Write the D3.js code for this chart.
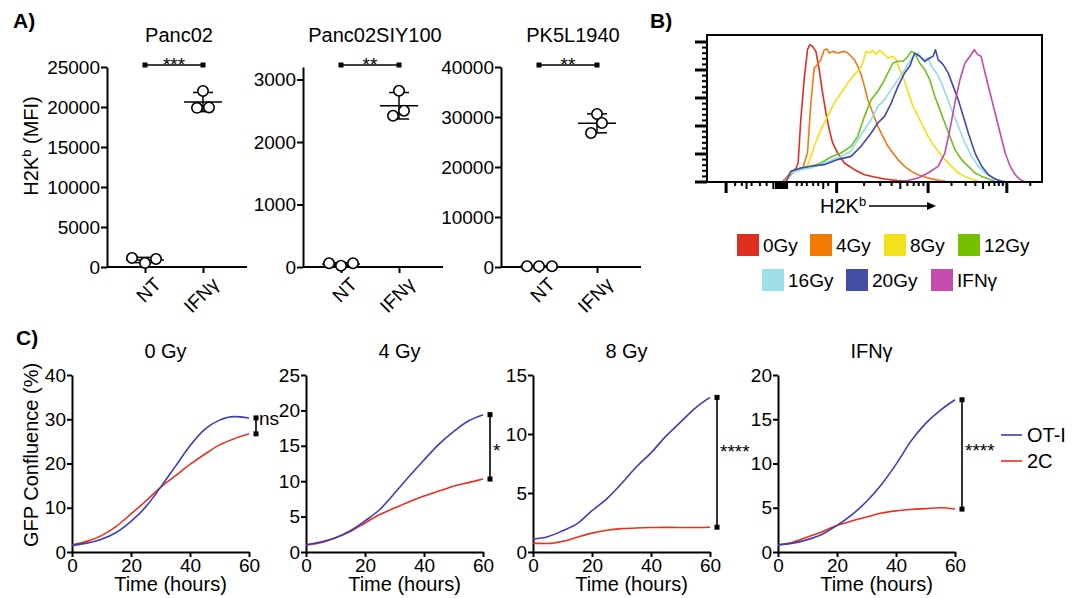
<!DOCTYPE html>
<html>
<head>
<meta charset="utf-8">
<script src="https://cdn.jsdelivr.net/npm/d3@7"></script>
<style>
  body { margin: 0; background: #fff; }
  svg { display: block; font-family: "Liberation Sans", Arial, sans-serif; }
</style>
</head>
<body>
<svg id="fig" width="1079" height="598"></svg>
<script>
// ---- Panel A data (H2Kb MFI, 3 replicates) ----
const catsA = ['NT', 'IFNγ'];
const titlesA = ['Panc02', 'Panc02SIY100', 'PK5L1940'];
const panc02NT = [1125, 500, 1000];
const panc02IFN = [22000, 19900, 19950];
const siyNT = [60, 20, 60];
const siyIFN = [2820, 2420, 2500];
const pk5NT = [150, 150, 150];
const pk5IFN = [30600, 28800, 26800];
const yMaxA = [25000, 3200, 40000];
const yTicksA = [
  [0, 5000, 10000, 15000, 20000, 25000],
  [0, 1000, 2000, 3000],
  [0, 10000, 20000, 30000, 40000]
];
const starsA = ['***', '**', '**'];

// ---- Panel B data (histogram, [channel, % of max]) ----
const doseB = ['0Gy', '4Gy', '8Gy', '12Gy', '16Gy', '20Gy', 'IFNγ'];
const h0Gy = [[225,0],[250,6.4],[265,9.5],[272,13.6],[280,44.5],[290,73.1],[300,94.5],[307,98.1],[315,96.9],[325,93.3],[335,80.2],[345,63.6],[355,49.3],[365,37.4],[375,27.9],[390,20.7],[410,13.6],[440,8.8],[470,5.2],[500,3.6],[530,2.1],[570,1.0],[610,0.2],[650,0]];
const h4Gy = [[230,0],[260,7.6],[285,9.5],[300,20.7],[310,56.4],[320,81.4],[330,83.8],[340,87.4],[350,94.5],[358,95.0],[365,92.1],[375,93.3],[390,92.1],[410,93.3],[420,92.1],[430,89.8],[440,87.4],[450,82.6],[460,76.7],[470,68.3],[480,58.8],[495,49.3],[510,39.8],[525,32.6],[540,25.5],[555,20.7],[570,16.0],[590,11.2],[610,7.6],[630,5.2],[650,3.6],[680,1.7],[710,0.5],[720,0]];
const h8Gy = [[230,0],[250,6.4],[280,10.0],[300,11.2],[320,25.5],[340,37.4],[360,46.9],[380,56.4],[400,63.6],[420,70.7],[440,76.7],[455,80.2],[465,85.0],[475,93.3],[485,92.1],[495,94.0],[505,91.0],[515,94.0],[525,92.1],[540,88.6],[555,89.8],[565,87.4],[575,80.2],[585,75.5],[595,68.3],[605,61.2],[615,54.0],[630,46.9],[645,39.8],[660,32.6],[675,26.7],[690,21.9],[710,16.0],[730,11.2],[750,6.4],[770,4.0],[790,2.1],[810,0.5]];
const h12Gy = [[235,0],[250,6.4],[280,10.0],[310,11.2],[340,13.6],[370,17.9],[400,20.7],[430,25.5],[450,32.6],[470,46.9],[490,58.8],[510,64.8],[525,70.7],[540,77.9],[555,85.0],[570,86.2],[585,86.2],[600,89.8],[610,93.3],[620,92.1],[635,85.0],[650,80.2],[665,73.1],[680,61.2],[695,51.7],[710,42.1],[725,32.6],[740,23.1],[760,16.0],[780,11.2],[800,6.4],[820,4.0],[840,2.1],[860,0.5]];
const h16Gy = [[235,0],[250,6.4],[280,8.8],[310,10.0],[350,13.6],[390,17.1],[430,21.9],[450,30.2],[470,37.4],[490,44.5],[510,54.0],[530,58.8],[550,66.0],[570,73.1],[590,80.2],[605,86.2],[615,89.8],[630,92.1],[645,87.4],[660,88.6],[670,82.6],[685,77.9],[700,70.7],[715,61.2],[730,51.7],[750,39.8],[770,27.9],[790,18.3],[810,11.2],[830,6.4],[850,3.6],[870,1.2],[890,0]];
const h20Gy = [[235,0],[250,7.6],[280,10.0],[310,11.2],[350,12.4],[390,16.0],[430,18.3],[460,25.5],[490,35.0],[510,42.1],[530,46.9],[550,56.4],[570,68.3],[590,77.9],[605,82.6],[620,92.1],[635,89.8],[650,86.2],[665,88.6],[675,89.8],[682,94.5],[690,87.4],[705,83.8],[720,77.9],[735,68.3],[750,58.8],[765,46.9],[780,35.0],[800,20.7],[820,11.2],[840,5.2],[860,2.1],[880,0.5],[900,0]];
const hIFN = [[550,0],[590,0.5],[630,2.9],[660,6.4],[690,11.2],[710,20.7],[725,37.4],[740,56.4],[755,73.1],[770,85.0],[785,89.8],[798,94.5],[808,91.0],[818,89.8],[830,77.9],[845,63.6],[860,49.3],[875,35.0],[890,20.7],[905,11.2],[920,5.2],[935,1.7],[950,0]];
// axis tick positions (channel units, biexponential axis)
const bTickMajor = [57, 387, 660, 895];
const bTickMid = [118, 198, 206, 209, 212, 215, 218, 221, 224, 227, 230, 233, 236, 239, 347, 577, 824];
const bTickMinor = [84, 104, 133, 158, 178, 268, 283, 298, 317, 332, 362, 469, 517, 551, 598, 617, 632, 646, 730, 772, 801, 842, 858, 871, 883, 965];

// ---- Panel C data (GFP confluence %, every 5 h) ----
const hoursC = [0, 5, 10, 15, 20, 25, 30, 35, 40, 45, 50, 55, 60];
const titlesC = ['0 Gy', '4 Gy', '8 Gy', 'IFNγ'];
const otI0 = [1.5, 2.0, 2.9, 4.4, 6.9, 10.2, 14.6, 19.3, 24.0, 27.7, 29.8, 30.6, 30.3];
const c2C0 = [1.6, 2.4, 3.7, 5.8, 8.6, 11.5, 14.6, 17.2, 19.8, 22.1, 24.2, 25.6, 26.7];
const otI4 = [1.0, 1.4, 2.0, 3.0, 4.4, 6.0, 8.3, 10.7, 13.0, 15.2, 17.0, 18.5, 19.4];
const c2C4 = [1.0, 1.3, 2.0, 2.9, 4.1, 5.3, 6.2, 7.1, 7.9, 8.6, 9.3, 9.8, 10.3];
const otI8 = [1.1, 1.3, 1.8, 2.4, 3.5, 4.5, 5.8, 7.2, 8.4, 9.8, 11.0, 12.2, 13.1];
const c2C8 = [0.75, 0.72, 0.9, 1.25, 1.6, 1.85, 1.98, 2.03, 2.07, 2.09, 2.08, 2.08, 2.1];
const otIIFN = [0.8, 1.0, 1.4, 2.0, 3.0, 4.2, 5.7, 7.6, 9.9, 12.5, 14.5, 16.0, 17.2];
const c2CIFN = [0.8, 1.1, 1.7, 2.3, 3.0, 3.5, 3.95, 4.4, 4.65, 4.8, 4.9, 5.0, 4.85];
const yMaxC = [40, 25, 15, 20];
const yStepC = [10, 5, 5, 5];
const sigC = ['ns', '*', '****', '****'];
const sigLabelC = [28.7, 13.4, 8.0, 10.7];
const seriesC = ['OT-I', '2C'];

// ---- colours ----
const doseColors = ['#e32c1f', '#f17810', '#f5de12', '#6fc01a', '#92dbeb', '#4048aa', '#c647b2'];
const swatchColors = ['#df2f1f', '#f27a00', '#f3e21a', '#75c100', '#9de0ea', '#454ea6', '#c64db0'];
const otIColor = '#3d3db8';
const c2CColor = '#e8301e';

const svg = d3.select('#fig');
svg.append('rect').attr('width', 1079).attr('height', 598).attr('fill', '#fff');

function styleAxis(g, fs) {
  g.attr('font-family', null).attr('font-size', fs);
  g.selectAll('path,line').attr('stroke', '#000').attr('stroke-width', 2);
  g.selectAll('text').attr('fill', '#000').attr('font-size', fs);
}

function panelLabel(t, x, y) {
  svg.append('text').attr('x', x).attr('y', y)
    .attr('font-size', 21).attr('font-weight', 'bold').text(t);
}
panelLabel('A)', 13, 28);
panelLabel('B)', 650, 28);
panelLabel('C)', 16, 345);

// =================== Panel A ===================
const dotPlots = [
  { nt: panc02NT, ifn: panc02IFN, jNT: [-13, 0, 11], jIFN: [0, -6, 6] },
  { nt: siyNT, ifn: siyIFN, jNT: [-12, 0, 12], jIFN: [0, -6, 5] },
  { nt: pk5NT, ifn: pk5IFN, jNT: [-12, 0, 13], jIFN: [0, 5, -6] }
];
const aX = [107, 303, 501];
const aTop = 67, aBot = 267, aW = 140;

dotPlots.forEach((p, i) => {
  const x0 = aX[i];
  const g = svg.append('g');
  const y = d3.scaleLinear().domain([0, yMaxA[i]]).range([aBot, aTop]);
  const x = d3.scalePoint().domain(catsA).range([x0 + 38, x0 + 96]);

  g.append('g').attr('transform', `translate(${x0},0)`)
    .call(d3.axisLeft(y).tickValues(yTicksA[i]).tickSize(6).tickSizeOuter(0).tickPadding(1).tickFormat(d3.format('d')))
    .call(a => styleAxis(a, 19));

  g.append('line').attr('x1', x0).attr('x2', x0 + aW).attr('y1', aBot).attr('y2', aBot)
    .attr('stroke', '#000').attr('stroke-width', 2);
  const xa = g.append('g').attr('transform', `translate(0,${aBot})`)
    .call(d3.axisBottom(x).tickSize(6).tickSizeOuter(0))
    .call(a => a.select('.domain').remove())
    .call(a => styleAxis(a, 19));
  xa.selectAll('.tick text')
    .attr('text-anchor', 'end')
    .attr('dy', null).attr('y', null)
    .attr('transform', 'translate(12,14) rotate(-45)')
    .attr('dominant-baseline', 'central');

  g.append('text').attr('x', x0 + 72).attr('y', 42).attr('text-anchor', 'middle')
    .attr('font-size', 20).text(titlesA[i]);

  const groups = [{ c: 'NT', v: p.nt, j: p.jNT }, { c: 'IFNγ', v: p.ifn, j: p.jIFN }];
  groups.forEach(gr => {
    const cx = x(gr.c);
    const m = d3.mean(gr.v), sd = d3.deviation(gr.v);
    g.append('line').attr('x1', cx).attr('x2', cx).attr('y1', y(m + sd)).attr('y2', y(m - sd))
      .attr('stroke', '#000').attr('stroke-width', 1.5);
    [m + sd, m - sd].forEach(v => g.append('line').attr('x1', cx - 10).attr('x2', cx + 10)
      .attr('y1', y(v)).attr('y2', y(v)).attr('stroke', '#000').attr('stroke-width', 1.5));
    g.append('line').attr('x1', cx - 19).attr('x2', cx + 19).attr('y1', y(m)).attr('y2', y(m))
      .attr('stroke', '#000').attr('stroke-width', 1.5);
    g.selectAll(null).data(gr.v).join('circle')
      .attr('cx', (d, k) => cx + gr.j[k]).attr('cy', d => y(d)).attr('r', 5.2)
      .attr('fill', '#fff').attr('stroke', '#000').attr('stroke-width', 1.6);
  });

  // significance bar
  const sx1 = x('NT'), sx2 = x('IFNγ'), sy = 65;
  g.append('line').attr('x1', sx1).attr('x2', sx2).attr('y1', sy).attr('y2', sy)
    .attr('stroke', '#000').attr('stroke-width', 1.5);
  [sx1, sx2].forEach(sx => g.append('rect').attr('x', sx - 2.5).attr('y', sy - 2.5)
    .attr('width', 5).attr('height', 5).attr('fill', '#000'));
  g.append('text').attr('x', (sx1 + sx2) / 2).attr('y', sy + 6).attr('text-anchor', 'middle')
    .attr('font-size', 19).text(starsA[i]);
});

// y label A
svg.append('text')
  .attr('transform', 'translate(38,146) rotate(-90)')
  .attr('text-anchor', 'middle').attr('font-size', 20)
  .call(t => {
    t.append('tspan').text('H2K');
    t.append('tspan').attr('font-size', 13).attr('dy', -7).text('b');
    t.append('tspan').attr('dy', 7).text(' (MFI)');
  });

// =================== Panel B ===================
const bL = 707, bR = 1042, bT = 35, bB = 182;
const xB = d3.scaleLinear().domain([0, 1000]).range([bL, bR]);
const yB = d3.scaleLinear().domain([0, 100]).range([bB, 42]);
const histSeries = [h0Gy, h4Gy, h8Gy, h12Gy, h16Gy, h20Gy, hIFN];

svg.append('clipPath').attr('id', 'clipB').append('rect')
  .attr('x', bL).attr('y', bT).attr('width', bR - bL).attr('height', bB - bT);
const lineB = d3.line().x(d => xB(d[0])).y(d => yB(d[1]));
svg.append('g').attr('clip-path', 'url(#clipB)')
  .selectAll('path').data(histSeries).join('path')
  .attr('d', lineB).attr('fill', 'none')
  .attr('stroke', (d, i) => doseColors[i]).attr('stroke-width', 1.6)
  .attr('stroke-linejoin', 'round');

svg.append('rect').attr('x', bL).attr('y', bT).attr('width', bR - bL).attr('height', bB - bT)
  .attr('fill', 'none').attr('stroke', '#000').attr('stroke-width', 2);

// left ticks
const leftTicks = d3.range(0, 101, 4);
svg.append('g').selectAll('line').data(leftTicks).join('line')
  .attr('x1', d => d % 20 === 0 ? bL - 12 : bL - 5).attr('x2', bL)
  .attr('y1', d => yB(d)).attr('y2', d => yB(d))
  .attr('stroke', '#000').attr('stroke-width', d => d % 20 === 0 ? 3 : 2);

// bottom ticks
const bTicks = [
  ...bTickMajor.map(v => ({ v, len: 11, w: 3 })),
  ...bTickMid.map(v => ({ v, len: 7, w: 2 })),
  ...bTickMinor.map(v => ({ v, len: 4, w: 2 }))
];
svg.append('g').selectAll('line').data(bTicks).join('line')
  .attr('x1', d => xB(d.v)).attr('x2', d => xB(d.v))
  .attr('y1', bB).attr('y2', d => bB + d.len)
  .attr('stroke', '#000').attr('stroke-width', d => d.w);

// H2Kb arrow label
svg.append('text').attr('x', 820).attr('y', 213).attr('font-size', 20)
  .call(t => {
    t.append('tspan').text('H2K');
    t.append('tspan').attr('font-size', 13).attr('dy', -7).text('b');
  });
svg.append('line').attr('x1', 869).attr('x2', 928).attr('y1', 206).attr('y2', 206)
  .attr('stroke', '#000').attr('stroke-width', 1.6);
svg.append('path').attr('d', 'M927,202 L936,206 L927,210 Z').attr('fill', '#000');

// legend B
const legPos = [[737, 245], [810, 245], [884, 245], [958, 245], [762, 280], [846, 280], [931, 280]];
const legB = svg.append('g').selectAll('g').data(doseB).join('g')
  .attr('transform', (d, i) => `translate(${legPos[i][0]},${legPos[i][1]})`);
legB.append('rect').attr('x', 0).attr('y', -11).attr('width', 22).attr('height', 22)
  .attr('fill', (d, i) => swatchColors[i]);
legB.append('text').attr('x', 26).attr('y', 0).attr('dy', '0.35em')
  .attr('font-size', 19).text(d => d);

// =================== Panel C ===================
const otISeries = [otI0, otI4, otI8, otIIFN];
const c2CSeries = [c2C0, c2C4, c2C8, c2CIFN];
const cX = [72, 306, 533, 778];
const cTop = 375, cBot = 552, cW = 177;

titlesC.forEach((title, i) => {
  const x0 = cX[i];
  const g = svg.append('g');
  const x = d3.scaleLinear().domain([0, 60]).range([x0, x0 + cW]);
  const y = d3.scaleLinear().domain([0, yMaxC[i]]).range([cBot, cTop]);

  g.append('g').attr('transform', `translate(${x0},0)`)
    .call(d3.axisLeft(y).tickValues(d3.range(0, yMaxC[i] + 0.1, yStepC[i])).tickSize(5).tickSizeOuter(0).tickPadding(1))
    .call(a => styleAxis(a, 19));
  g.append('g').attr('transform', `translate(0,${cBot})`)
    .call(d3.axisBottom(x).tickValues([0, 20, 40, 60]).tickSize(5).tickSizeOuter(0).tickPadding(2))
    .call(a => styleAxis(a, 19));

  const line = d3.line().x((d, k) => x(hoursC[k])).y(d => y(d)).curve(d3.curveMonotoneX);
  g.append('path').datum(c2CSeries[i]).attr('d', line).attr('fill', 'none')
    .attr('stroke', c2CColor).attr('stroke-width', 1.6);
  g.append('path').datum(otISeries[i]).attr('d', line).attr('fill', 'none')
    .attr('stroke', otIColor).attr('stroke-width', 1.6);

  g.append('text').attr('x', x0 + cW / 2 + 5).attr('y', 358).attr('text-anchor', 'middle')
    .attr('font-size', 20).text(title);
  g.append('text').attr('x', x0 + cW / 2 + 10).attr('y', 591).attr('text-anchor', 'middle')
    .attr('font-size', 20).text('Time (hours)');

  // bracket between end values
  const bx = x0 + cW + 7;
  const v1 = otISeries[i][otISeries[i].length - 1];
  const v2 = c2CSeries[i][c2CSeries[i].length - 1];
  g.append('line').attr('x1', bx).attr('x2', bx).attr('y1', y(v1)).attr('y2', y(v2))
    .attr('stroke', '#000').attr('stroke-width', 1.6);
  [v1, v2].forEach(v => g.append('rect').attr('x', bx - 2.5).attr('y', y(v) - 2.5)
    .attr('width', 5).attr('height', 5).attr('fill', '#000'));
  g.append('text').attr('x', bx + 3).attr('y', y(sigLabelC[i]))
    .attr('font-size', 19).text(sigC[i]);
});

svg.append('text')
  .attr('transform', 'translate(38,455) rotate(-90)')
  .attr('text-anchor', 'middle').attr('font-size', 20)
  .text('GFP Confluence (%)');

// legend C
const legC = svg.append('g').selectAll('g').data(seriesC).join('g')
  .attr('transform', (d, i) => `translate(1001,${435 + i * 26})`);
legC.append('line').attr('x1', 0).attr('x2', 21).attr('y1', 0).attr('y2', 0)
  .attr('stroke', (d, i) => i === 0 ? otIColor : c2CColor).attr('stroke-width', 1.6);
legC.append('text').attr('x', 26).attr('y', 0).attr('dy', '0.35em')
  .attr('font-size', 20).text(d => d);
</script>
</body>
</html>
